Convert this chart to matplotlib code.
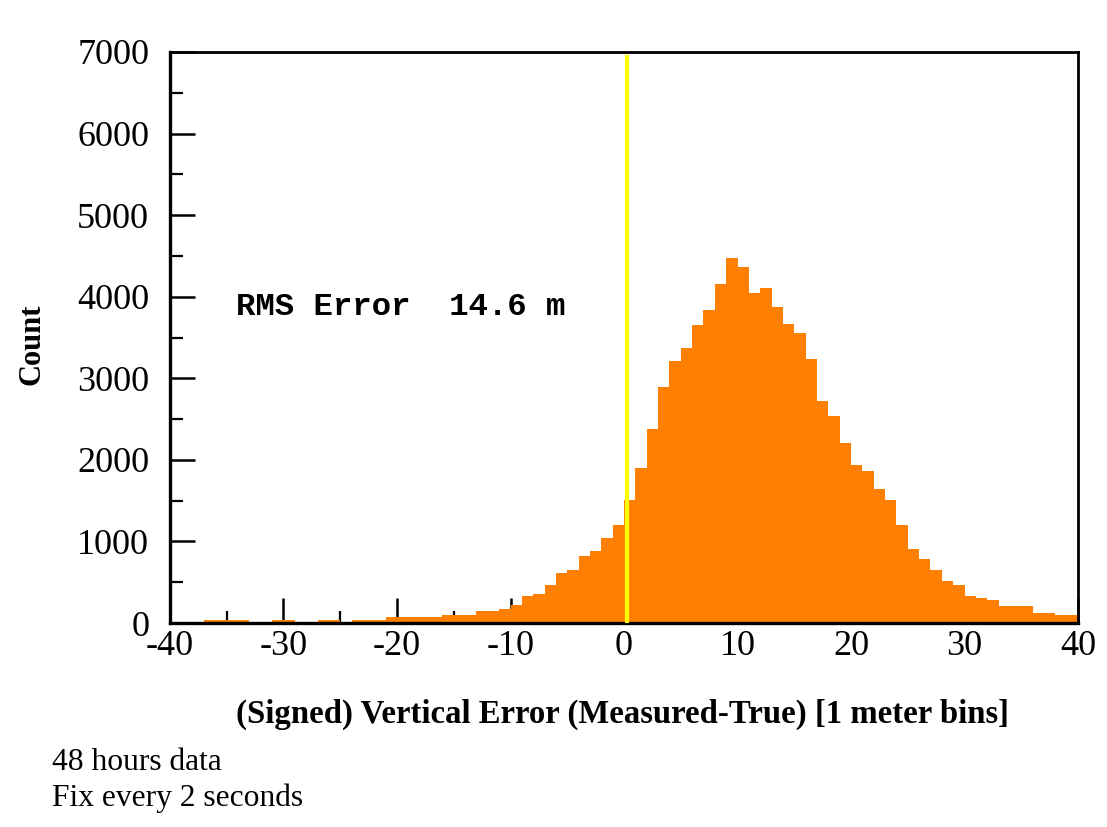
import matplotlib
matplotlib.use("Agg")
import matplotlib.pyplot as plt
from matplotlib.ticker import MultipleLocator

plt.rcParams["axes.unicode_minus"] = False

# ---- data (1 m bins, left edges) ----
bin_left = list(range(-37, 40))
counts = [35, 35, 35, 35, 0, 0, 35, 35, 0, 0,
          35, 35, 0, 35, 35, 35,
          75, 75, 75, 75, 75,
          94, 94, 94, 147, 147, 175, 224, 330, 358, 461, 615, 644, 827, 880, 1042, 1200,
          1511, 1902, 2374, 2899, 3213, 3368, 3656, 3840, 4154, 4475,
          4370, 4047, 4101, 3869, 3661, 3555, 3241, 2716, 2541, 2203,
          1932, 1860, 1645, 1513, 1197, 912, 782, 647, 517, 464,
          334, 309, 281, 204, 204, 204, 126, 126, 98, 98]
xticks = [-40, -30, -20, -10, 0, 10, 20, 30, 40]
yticks = [0, 1000, 2000, 3000, 4000, 5000, 6000, 7000]
zero_line_x = 0.3
rms_text = "RMS Error  14.6 m"
xlabel = "(Signed) Vertical Error (Measured-True) [1 meter bins]"
ylabel = "Count"
notes = ["48 hours data", "Fix every 2 seconds"]

W, H = 1107, 827
fig = plt.figure(figsize=(W / 100, H / 100), dpi=100)
ax = fig.add_axes([170 / W, 1 - 623 / H, (1078 - 170) / W, (623 - 52) / H])

ax.bar(bin_left, counts, width=1.0, align="edge", color="#FF8000", edgecolor="none", zorder=2)
ax.axvline(zero_line_x, ymin=0, ymax=0.991, color="#FFFF00", lw=3.0, zorder=3)

ax.set_xlim(-40, 40)
ax.set_ylim(0, 7000)
ax.set_xticks(xticks)
ax.set_yticks(yticks)
ax.xaxis.set_minor_locator(MultipleLocator(5))
ax.yaxis.set_minor_locator(MultipleLocator(500))

serif = ["Liberation Serif", "DejaVu Serif"]
ax.tick_params(axis="both", which="major", direction="in", length=18, width=1.8,
               top=False, right=False, labelsize=26, colors="black")
ax.tick_params(axis="both", which="minor", direction="in", length=9, width=1.6,
               top=False, right=False)
ax.tick_params(axis="x", which="major", pad=5)
ax.tick_params(axis="y", which="major", pad=15)
for lab in ax.get_xticklabels() + ax.get_yticklabels():
    lab.set_family(serif)

for side in ["left", "bottom"]:
    ax.spines[side].set_linewidth(2.4)
for side in ["top", "right"]:
    ax.spines[side].set_linewidth(2.0)

ax.text(-34.2, 3870, rms_text, family=["Liberation Mono", "DejaVu Sans Mono"],
        fontweight="bold", fontsize=23.3, ha="left", va="center", zorder=4)

fig.text(622 / W, 1 - 714 / H, xlabel, family=serif, fontweight="bold",
         fontsize=23.6, ha="center", va="center")
fig.text(32 / W, 1 - 344 / H, ylabel, family=serif, fontweight="bold",
         fontsize=22, ha="center", va="center", rotation=90)
fig.text(52 / W, 1 - 762 / H, notes[0], family=serif, fontsize=22.7, ha="left", va="center")
fig.text(52 / W, 1 - 798 / H, notes[1], family=serif, fontsize=22.7, ha="left", va="center")

fig.savefig("out.png", dpi=100, facecolor="white")
